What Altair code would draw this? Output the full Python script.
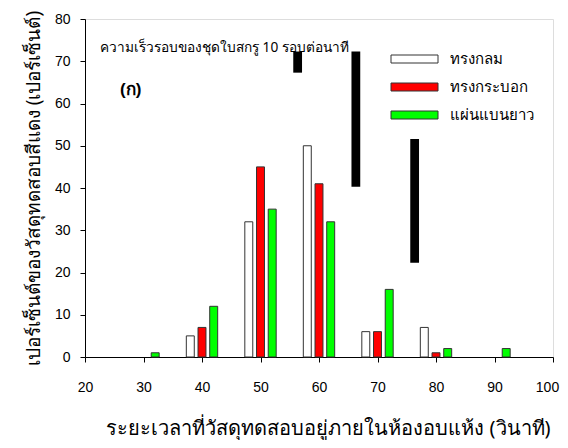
import altair as alt
import pandas as pd

# ---- data ----
times = [30, 40, 50, 60, 70, 80, 90]
sphere = [0, 5, 32, 50, 6, 7, 0]        # ทรงกลม
cylinder = [0, 7, 45, 41, 6, 1, 0]      # ทรงกระบอก
flat = [1, 12, 35, 32, 16, 2, 2]        # แผ่นแบนยาว
series_names = ["ทรงกลม", "ทรงกระบอก", "แผ่นแบนยาว"]
series_colors = ["#FFFFFF", "#FF0000", "#00FF00"]
offsets = [-2, 0, 2]
half_w = 0.68

# black blocks in the reference
black_x = [56.35, 66.3, 76.35]
black_low = [67.3, 40.3, 22.3]
black_high = [72.3, 72.3, 51.6]
black_half = 0.75

x_ticks = [20, 30, 40, 50, 60, 70, 80, 90, 100]
y_ticks = [0, 10, 20, 30, 40, 50, 60, 70, 80]

note_text = "ความเร็วรอบของชุดใบสกรู 10 รอบต่อนาที"
panel_text = "(ก)"
x_title = "ระยะเวลาที่วัสดุทดสอบอยู่ภายในห้องอบแห้ง (วินาที)"
y_title = "เปอร์เซ็นต์ของวัสดุทดสอบสีแดง (เปอร์เซ็นต์)"

FONT = "Liberation Sans"
THAI = "Noto Sans, sans-serif"

rows = []
for name, vals, off in zip(series_names, [sphere, cylinder, flat], offsets):
    for t, v in zip(times, vals):
        if v > 0:
            rows.append({"series": name, "x0": t + off - half_w, "x1": t + off + half_w, "v": v, "base": 0})
df = pd.DataFrame(rows)

df_black = pd.DataFrame({
    "x0": [x - black_half for x in black_x],
    "x1": [x + black_half for x in black_x],
    "lo": black_low,
    "hi": black_high,
})

xs = alt.Scale(domain=[20, 100], nice=False, zero=False)
ys = alt.Scale(domain=[0, 80], nice=False)

xaxis = alt.Axis(
    title=x_title, values=x_ticks, tickSize=5, labelPadding=18, titlePadding=24,
    grid=False, domainColor="black", tickColor="black", labelColor="black",
    labelFont=FONT, labelFontSize=14, titleFont=THAI, titleFontSize=20,
    titleFontWeight="normal", titleColor="black", titleX=243, labelFlush=False,
    labelOffset=alt.condition("datum.value == 100", alt.value(-6), alt.value(0)),
)
yaxis = alt.Axis(
    title=y_title, values=y_ticks, tickSize=5, labelPadding=10, titlePadding=11,
    grid=False, domainColor="black", tickColor="black", labelColor="black",
    labelFont=FONT, labelFontSize=14, titleFont=THAI, titleFontSize=19,
    titleFontWeight="normal", titleColor="black", labelFlush=False,
)

bars = alt.Chart(df).mark_rect(stroke="#333333", strokeWidth=1).encode(
    x=alt.X("x0:Q", scale=xs, axis=xaxis),
    x2="x1:Q",
    y=alt.Y("v:Q", scale=ys, axis=yaxis),
    y2="base:Q",
    color=alt.Color("series:N", scale=alt.Scale(domain=series_names, range=series_colors), legend=None),
)

blacks = alt.Chart(df_black).mark_rect(color="black").encode(
    x=alt.X("x0:Q", scale=xs),
    x2="x1:Q",
    y=alt.Y("lo:Q", scale=ys),
    y2="hi:Q",
)

layers = [bars, blacks]

# manual legend
leg_y = [40, 68, 96]
for name, col, yy in zip(series_names, series_colors, leg_y):
    d = pd.DataFrame({"t": [name]})
    layers.append(
        alt.Chart(d).mark_rect(fill=col, stroke="#333333", strokeWidth=1).encode(
            x=alt.value(306), x2=alt.value(353), y=alt.value(yy - 4), y2=alt.value(yy + 4)
        )
    )
    layers.append(
        alt.Chart(d).mark_text(align="left", baseline="middle", font=THAI, fontSize=15, color="black").encode(
            x=alt.value(365), y=alt.value(yy), text="t:N"
        )
    )

layers.append(
    alt.Chart(pd.DataFrame({"t": [note_text]})).mark_text(
        align="left", baseline="middle", font=THAI, fontSize=13.7, color="black"
    ).encode(x=alt.value(15), y=alt.value(29), text="t:N")
)
layers.append(
    alt.Chart(pd.DataFrame({"t": [panel_text]})).mark_text(
        align="left", baseline="middle", font=FONT, fontSize=17, fontWeight="bold", color="black"
    ).encode(x=alt.value(35), y=alt.value(71), text="t:N")
)

chart = alt.layer(*layers).properties(
    width=468, height=338,
    padding={"left": 77, "top": 11, "right": 7, "bottom": 83},
    autosize=alt.AutoSizeParams(type="none"),
).configure_view(stroke="black", strokeWidth=1).configure(background="white")

chart.save("out.html", embed_options={"renderer": "svg", "actions": False})
